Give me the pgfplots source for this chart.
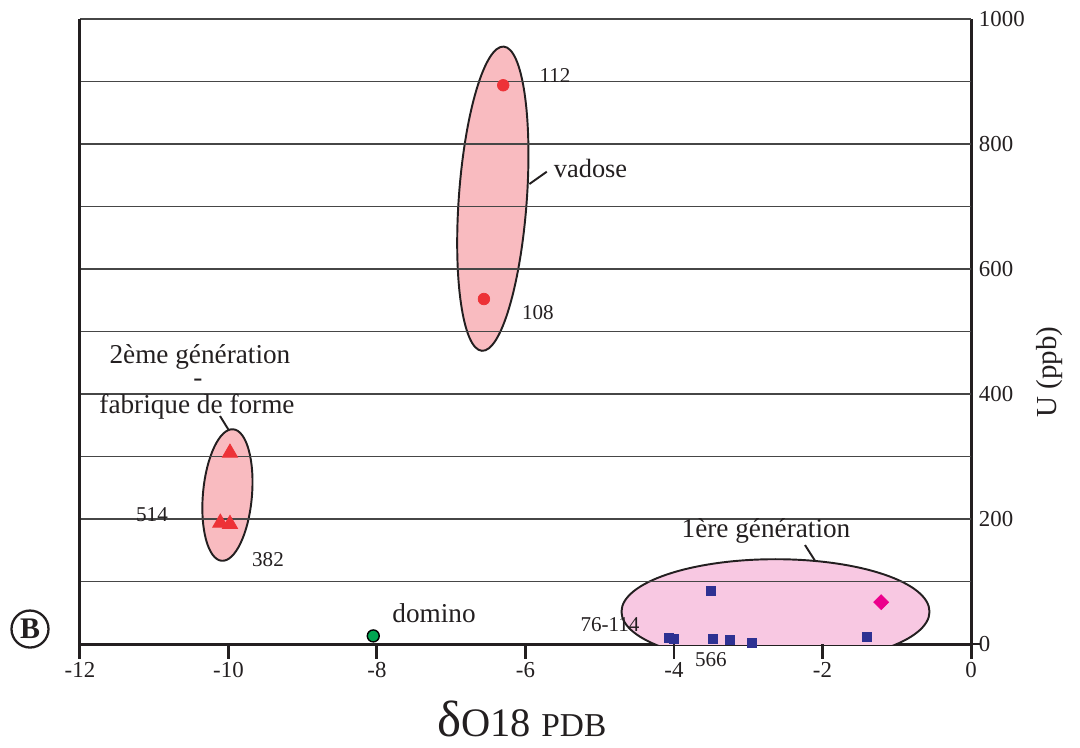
\documentclass[border=0pt]{standalone}
\usepackage{pgfplots}
\pgfplotsset{compat=1.18}
\usepackage{fontspec}
\setmainfont{Liberation Serif}
\definecolor{vpink}{RGB}{249,187,192}
\definecolor{gpink}{RGB}{248,200,226}
\definecolor{mred}{RGB}{237,50,55}
\definecolor{mblue}{RGB}{46,49,146}
\definecolor{mmag}{RGB}{236,0,140}
\definecolor{mgreen}{RGB}{0,166,81}
\definecolor{gridc}{RGB}{70,70,70}
\definecolor{ink}{RGB}{35,31,32}
\begin{document}
\begin{tikzpicture}
\begin{axis}[
  scale only axis, width=17.82cm, height=12.5cm,
  xmin=-12, xmax=0, ymin=0, ymax=1000,
  clip=false,
  axis x line*=bottom, axis y line*=right,
  axis line style={line width=1.7pt, ink, -},
  xtick={-12,-10,-8,-6,-4,-2,0},
  xticklabels={{-12},{-10},{-8},{-6},{-4},{-2},{0}},
  ytick={0,200,400,600,800,1000},
  yticklabels={{0},{200},{400},{600},{800},{1000}},
  major tick length=0pt,
  xtick style={draw=none},
  ytick style={draw=none},
  xticklabel style={font=\fontsize{13}{15}\selectfont, text=ink, anchor=north, yshift=-7pt},
  yticklabel style={font=\fontsize{13}{15}\selectfont, text=ink, anchor=west, xshift=1pt},
]
% bounding box helpers
\coordinate (BL) at (axis cs:-13.077,-164.8);
\coordinate (TR) at (axis cs:1.468,1030.4);
% ellipses
\draw[ink, line width=1.1pt, fill=vpink, rotate around={-4.1:(axis cs:-6.44,712.5)}] (axis cs:-6.44,712.5) ellipse (0.68cm and 3.05cm);
\draw[ink, line width=1.1pt, fill=vpink, rotate around={-5:(axis cs:-10.014,238.4)}] (axis cs:-10.014,238.4) ellipse (0.49cm and 1.32cm);
\begin{scope}
\clip (axis cs:-12,0) rectangle (axis cs:0,1000);
\draw[ink, line width=1.1pt, fill=gpink] (axis cs:-2.633,51.7) ellipse (3.08cm and 1.05cm);
\end{scope}
% gridlines
\pgfplotsinvokeforeach{100,200,300,400,500,600,700,800,900,1000}{
  \draw[gridc, line width=0.8pt] (axis cs:-12,#1) -- (axis cs:0,#1);
}
% left axis line
\draw[ink, line width=1.7pt] (axis cs:-12,1000) -- (axis cs:-12,0);
% x ticks (outside, below)
\pgfplotsinvokeforeach{-12,-10,-8,-6,-4,-2,0}{
  \draw[ink, line width=1.7pt] (axis cs:#1,0) -- ++(0pt,-0.3cm);
}
% y tick at 0
\draw[ink, line width=1.2pt] (axis cs:0,0) -- ++(0.2cm,0pt);
% leader lines
\draw[ink, line width=1.1pt] (axis cs:-5.947,736) -- (axis cs:-5.713,755.7);
\draw[ink, line width=1.1pt] (axis cs:-10.114,364.8) -- (axis cs:-10.003,343.5);
\draw[ink, line width=1.1pt] (axis cs:-2.236,158.4) -- (axis cs:-2.101,133.3);
% data
\addplot[only marks, mark=*, mark size=3.3pt, mark options={draw=mred, fill=mred}] coordinates {(-6.30,894) (-6.56,552)};
\addplot[only marks, mark=triangle*, mark size=5pt, mark options={draw=mred, fill=mred}] coordinates {(-9.98,306) (-10.11,194) (-9.98,192)};
\addplot[only marks, mark=*, mark size=3.4pt, mark options={draw=black, fill=mgreen, line width=0.8pt}] coordinates {(-8.05,13)};
\addplot[only marks, mark=square*, mark size=2.5pt, mark options={draw=mblue, fill=mblue}] coordinates {(-3.50,85) (-4.07,10) (-4.00,8) (-3.48,8) (-3.25,7) (-2.95,2) (-1.40,12)};
\addplot[only marks, mark=square*, mark size=3pt, mark options={draw=mmag, fill=mmag, rotate=45}] coordinates {(-1.21,67)};
% labels
\node[ink, font=\fontsize{15}{17}\selectfont, anchor=west] at (axis cs:-5.70,761.6) {vadose};
\node[ink, font=\fontsize{12}{14}\selectfont] at (axis cs:-5.603,910) {112};
\node[ink, font=\fontsize{12}{14}\selectfont] at (axis cs:-5.832,531) {108};
\node[ink, font=\fontsize{15.5}{17}\selectfont] at (axis cs:-10.384,460) {2ème génération};
\node[ink, font=\fontsize{15.5}{17}\selectfont, inner sep=0pt] at (axis cs:-10.41,418) {-};
\node[ink, font=\fontsize{15.5}{17}\selectfont, inner sep=0pt] at (axis cs:-10.424,379) {fabrique de forme};
\node[ink, font=\fontsize{12}{14}\selectfont] at (axis cs:-11.03,206.4) {514};
\node[ink, font=\fontsize{12}{14}\selectfont] at (axis cs:-9.468,134.4) {382};
\node[ink, font=\fontsize{15.5}{17}\selectfont] at (axis cs:-7.232,49.6) {domino};
\node[ink, font=\fontsize{12}{14}\selectfont] at (axis cs:-4.862,30.4) {76-114};
\node[ink, font=\fontsize{12}{14}\selectfont] at (axis cs:-3.502,-25.6) {566};
\node[ink, font=\fontsize{15.5}{17}\selectfont] at (axis cs:-2.761,180.8) {1ère génération};
% circled B
\draw[ink, line width=1.3pt] (axis cs:-12.673,24) circle (0.37cm);
\node[ink, font=\fontsize{17}{19}\selectfont\bfseries] at (axis cs:-12.673,24) {B};
% axis labels
\node[ink, anchor=base, inner sep=0pt] at (axis cs:-6.05,-148) {{\fontsize{29}{31}\selectfont δ}{\fontsize{23}{25}\selectfont O18}\hspace{6pt}{\fontsize{19}{21}\selectfont PDB}};
\node[ink, rotate=90, font=\fontsize{16.5}{18}\selectfont] at (axis cs:1.064,435) {U (ppb)};
\end{axis}
\pgfresetboundingbox
\useasboundingbox (BL) rectangle (TR);
\end{tikzpicture}
\end{document}
